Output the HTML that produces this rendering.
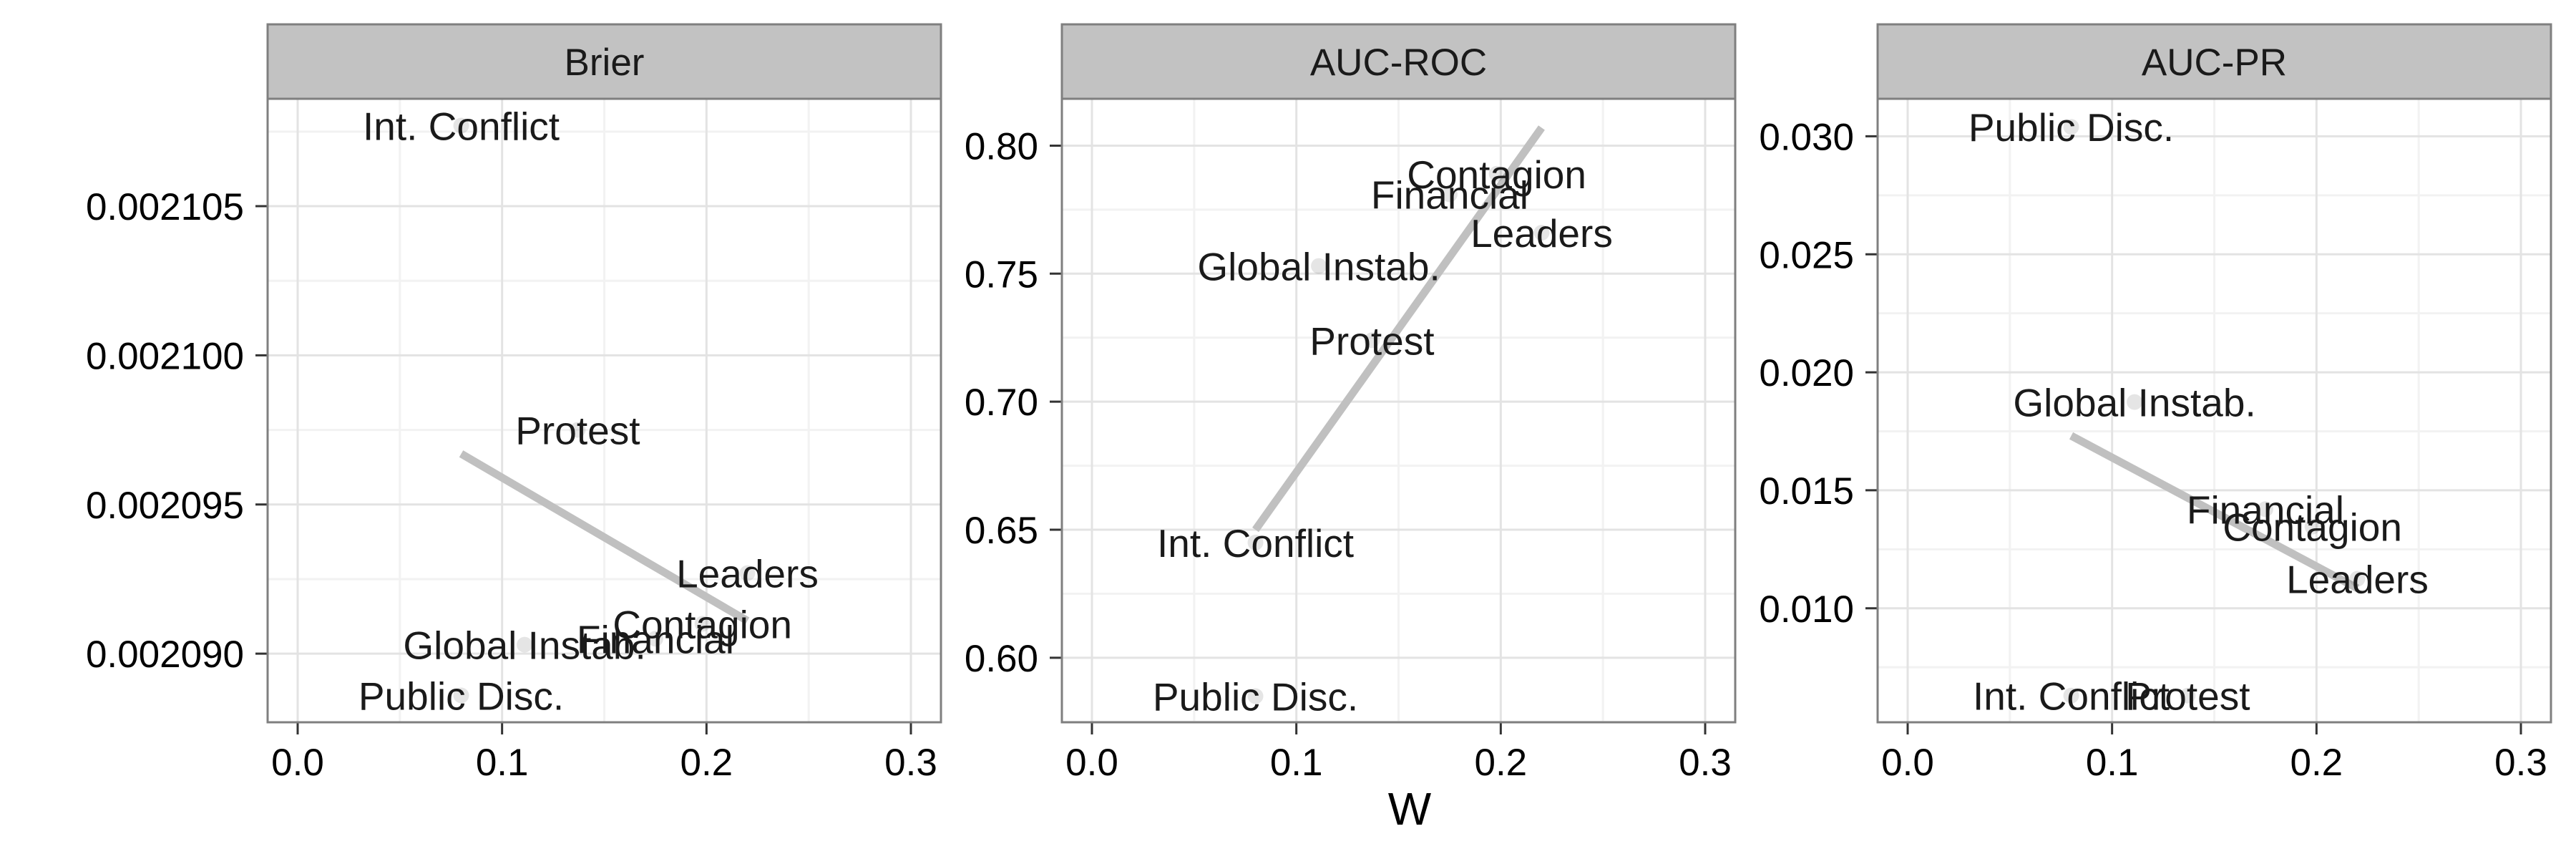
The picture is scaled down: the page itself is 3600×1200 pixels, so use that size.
<!DOCTYPE html>
<html><head><meta charset="utf-8"><style>
html,body{margin:0;padding:0;background:#fff;}
svg{display:block;font-family:"Liberation Sans",Arial,sans-serif;}
</style></head><body>
<svg id="chart" width="3600" height="1200" viewBox="0 0 3600 1200" xmlns="http://www.w3.org/2000/svg">
<rect width="3600" height="1200" fill="#fff"/>
<text x="1970" y="1152" font-size="64" text-anchor="middle" fill="#000">W</text>
</svg>
<script>
const labels = ["Int. Conflict","Public Disc.","Global Instab.","Protest","Financial","Contagion","Leaders"];
const wValues = [0.080, 0.080, 0.111, 0.137, 0.175, 0.198, 0.220];
const brierValues = [0.0021077, 0.0020886, 0.0020903, 0.0020975, 0.0020905, 0.0020910, 0.0020927];
const rocValues = [0.645, 0.585, 0.753, 0.724, 0.781, 0.789, 0.766];
const prValues = [0.0063, 0.0304, 0.01874, 0.0063, 0.0142, 0.01346, 0.01125];
const fitX = [0.080, 0.220];
const brierFit = [0.0020967, 0.0020911];
const rocFit = [0.650, 0.807];
const prFit = [0.01731, 0.01085];
const xTicks = [0.0, 0.1, 0.2, 0.3];
const brierTicks = [0.002090, 0.002095, 0.002100, 0.002105];
const rocTicks = [0.60, 0.65, 0.70, 0.75, 0.80];
const prTicks = [0.010, 0.015, 0.020, 0.025, 0.030];

const NS = "http://www.w3.org/2000/svg";
const svg = document.getElementById('chart');
function mk(tag, attrs, parent){const e=document.createElementNS(NS,tag);for(const k in attrs)e.setAttribute(k,attrs[k]);(parent||svg).appendChild(e);return e;}

const panels = [
 {title:"Brier", left:374, vals:brierValues, fit:brierFit, ticks:brierTicks, ymin:0.0020877, ymax:0.0021086, dec:6},
 {title:"AUC-ROC", left:1484, vals:rocValues, fit:rocFit, ticks:rocTicks, ymin:0.5748, ymax:0.8183, dec:2},
 {title:"AUC-PR", left:2624, vals:prValues, fit:prFit, ticks:prTicks, ymin:0.00517, ymax:0.03159, dec:3}
];
const W = 941, TOP = 138, BOT = 1009, STRIPTOP = 34;
const xmin = -0.0147, xmax = 0.3147;

panels.forEach((p, pi) => {
  const g = mk('g', {});
  
  
  const xs = v => p.left + (v - xmin) / (xmax - xmin) * W;
  const ys = v => BOT - (v - p.ymin) / (p.ymax - p.ymin) * (BOT - TOP);
  mk('rect', {x:p.left, y:TOP, width:W, height:BOT-TOP, fill:'#fff'}, g);
  const step = p.ticks[1] - p.ticks[0];
  for (let k = -1; k < p.ticks.length; k++) {
    const v = p.ticks[0] + (k + 0.5) * step;
    if (v > p.ymin && v < p.ymax) {
      const l = mk('line', {x1:p.left, x2:p.left+W, y1:ys(v), y2:ys(v), stroke:'#f2f2f2', 'stroke-width':3}, g);
      
      
    }
  }
  for (let k = 0; k < xTicks.length - 1; k++) {
    const v = xTicks[k] + 0.05;
    const l = mk('line', {x1:xs(v), x2:xs(v), y1:TOP, y2:BOT, stroke:'#f2f2f2', 'stroke-width':3}, g);
    
    
  }
  p.ticks.forEach(v => {
    const l = mk('line', {x1:p.left, x2:p.left+W, y1:ys(v), y2:ys(v), stroke:'#e3e3e3', 'stroke-width':3}, g);
    
    
    const t = mk('line', {x1:p.left-17, x2:p.left, y1:ys(v), y2:ys(v), stroke:'#333', 'stroke-width':3}, g);
    
    
    const tx = mk('text', {x:p.left-33, y:ys(v)+19, 'font-size':53, 'text-anchor':'end', fill:'#000'}, g);
    tx.textContent = v.toFixed(p.dec);
    
    
  });
  xTicks.forEach(v => {
    const l = mk('line', {x1:xs(v), x2:xs(v), y1:TOP, y2:BOT, stroke:'#e3e3e3', 'stroke-width':3}, g);
    
    
    const t = mk('line', {x1:xs(v), x2:xs(v), y1:BOT, y2:BOT+17, stroke:'#333', 'stroke-width':3}, g);
    
    
    const tx = mk('text', {x:xs(v), y:1083, 'font-size':53, 'text-anchor':'middle', fill:'#000'}, g);
    tx.textContent = v.toFixed(1);
    
    
  });
  const fl = mk('line', {x1:xs(fitX[0]), y1:ys(p.fit[0]), x2:xs(fitX[1]), y2:ys(p.fit[1]), stroke:'#c0c0c0', 'stroke-width':11}, g);
  
  
  labels.forEach((lab, i) => {
    const c = mk('circle', {cx:xs(wValues[i]), cy:ys(p.vals[i]), r:11, fill:'#000', 'fill-opacity':0.1}, g);
    
    
    const t = mk('text', {x:xs(wValues[i]), y:ys(p.vals[i])+20, 'font-size':55, 'text-anchor':'middle', fill:'#1a1a1a'}, g);
    t.textContent = lab;
    
    
  });
  const br = mk('rect', {x:p.left, y:TOP, width:W, height:BOT-TOP, fill:'none', stroke:'#7f7f7f', 'stroke-width':3}, g);
  
  
  const st = mk('rect', {x:p.left, y:STRIPTOP, width:W, height:TOP-STRIPTOP, fill:'#c2c2c2', stroke:'#7f7f7f', 'stroke-width':3}, g);
  
  
  const stt = mk('text', {x:p.left+W/2, y:105, 'font-size':53, 'text-anchor':'middle', fill:'#1a1a1a'}, g);
  stt.textContent = p.title;
  
  
});
</script>
</body></html>
